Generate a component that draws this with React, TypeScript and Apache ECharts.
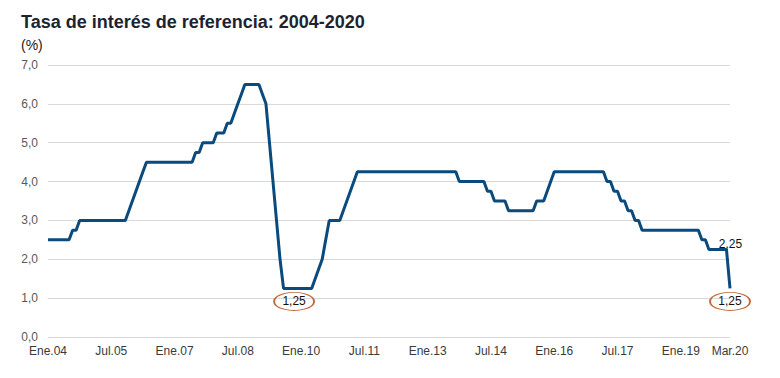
import React, { useEffect, useRef } from "react";
import * as echarts from "echarts";

const TITLE = "Tasa de interés de referencia: 2004-2020";
const UNIT = "(%)";

const MONTHS = ["Ene", "Feb", "Mar", "Abr", "May", "Jun", "Jul", "Ago", "Set", "Oct", "Nov", "Dic"];
const FIRST_YEAR = 2004;

// Monthly reference rate, Jan 2004 - Mar 2020 (195 months)
const rates: number[] = [
  // 2004
  2.5, 2.5, 2.5, 2.5, 2.5, 2.5, 2.5, 2.75, 2.75, 3.0, 3.0, 3.0,
  // 2005
  3.0, 3.0, 3.0, 3.0, 3.0, 3.0, 3.0, 3.0, 3.0, 3.0, 3.0, 3.25,
  // 2006
  3.5, 3.75, 4.0, 4.25, 4.5, 4.5, 4.5, 4.5, 4.5, 4.5, 4.5, 4.5,
  // 2007
  4.5, 4.5, 4.5, 4.5, 4.5, 4.5, 4.75, 4.75, 5.0, 5.0, 5.0, 5.0,
  // 2008
  5.25, 5.25, 5.25, 5.5, 5.5, 5.75, 6.0, 6.25, 6.5, 6.5, 6.5, 6.5,
  // 2009
  6.5, 6.25, 6.0, 5.0, 4.0, 3.0, 2.0, 1.25, 1.25, 1.25, 1.25, 1.25,
  // 2010
  1.25, 1.25, 1.25, 1.25, 1.5, 1.75, 2.0, 2.5, 3.0, 3.0, 3.0, 3.0,
  // 2011
  3.25, 3.5, 3.75, 4.0, 4.25, 4.25, 4.25, 4.25, 4.25, 4.25, 4.25, 4.25,
  // 2012
  4.25, 4.25, 4.25, 4.25, 4.25, 4.25, 4.25, 4.25, 4.25, 4.25, 4.25, 4.25,
  // 2013
  4.25, 4.25, 4.25, 4.25, 4.25, 4.25, 4.25, 4.25, 4.25, 4.0, 4.0, 4.0,
  // 2014
  4.0, 4.0, 4.0, 4.0, 4.0, 3.75, 3.75, 3.5, 3.5, 3.5, 3.5, 3.25,
  // 2015
  3.25, 3.25, 3.25, 3.25, 3.25, 3.25, 3.25, 3.5, 3.5, 3.5, 3.75, 4.0,
  // 2016
  4.25, 4.25, 4.25, 4.25, 4.25, 4.25, 4.25, 4.25, 4.25, 4.25, 4.25, 4.25,
  // 2017
  4.25, 4.25, 4.25, 4.0, 4.0, 3.75, 3.75, 3.5, 3.5, 3.25, 3.25, 3.0,
  // 2018
  3.0, 2.75, 2.75, 2.75, 2.75, 2.75, 2.75, 2.75, 2.75, 2.75, 2.75, 2.75,
  // 2019
  2.75, 2.75, 2.75, 2.75, 2.75, 2.75, 2.5, 2.5, 2.25, 2.25, 2.25, 2.25,
  // 2020
  2.25, 2.25, 1.25,
];

const categories: string[] = rates.map((_, i) => {
  const y = FIRST_YEAR + Math.floor(i / 12);
  return MONTHS[i % 12] + "." + String(y % 100).padStart(2, "0");
});

const tickIndices = [0, 18, 36, 54, 72, 90, 108, 126, 144, 162, 180, 194];

const circledLabels = [
  { index: 70, value: 1.25, text: "1,25" },
  { index: 194, value: 1.25, text: "1,25" },
];
const plainLabels = [{ index: 193, value: 2.25, text: "2,25" }];

const FONT = '"Liberation Sans", Arial, Helvetica, sans-serif';

export default function App() {
  const ref = useRef<HTMLDivElement>(null);
  useEffect(() => {
    document.body.style.margin = "0";
    if (!ref.current) return;
    const chart = echarts.init(ref.current, null, { renderer: "svg" });
    chart.setOption({
      animation: false,
      backgroundColor: "#ffffff",
      textStyle: { fontFamily: FONT },
      title: [
        {
          text: TITLE,
          left: 21,
          top: 13,
          padding: 0,
          textStyle: { fontSize: 18, fontWeight: "bold", color: "#1b2430", fontFamily: FONT },
        },
        {
          text: UNIT,
          left: 21,
          top: 38,
          padding: 0,
          textStyle: { fontSize: 14, fontWeight: "normal", color: "#222222", fontFamily: FONT },
        },
      ],
      grid: { left: 48, right: 50, top: 65, bottom: 41, containLabel: false },
      xAxis: {
        type: "category",
        data: categories,
        boundaryGap: false,
        axisLine: { show: false },
        axisTick: { show: false },
        splitLine: { show: false },
        axisLabel: {
          interval: (idx: number) => tickIndices.includes(idx),
          color: "#3a3a3a",
          fontSize: 12,
          margin: 8,
          fontFamily: FONT,
        },
      },
      yAxis: {
        type: "value",
        min: 0,
        max: 7,
        interval: 1,
        axisLine: { show: false },
        axisTick: { show: false },
        splitLine: { show: true, lineStyle: { color: "#d9d9d9", width: 1 } },
        axisLabel: {
          formatter: (v: number) => v.toFixed(1).replace(".", ","),
          color: "#595959",
          fontSize: 12,
          margin: 10,
          fontFamily: FONT,
        },
      },
      series: [
        {
          type: "line",
          data: rates,
          showSymbol: false,
          symbol: "none",
          lineStyle: { color: "#0a4a7c", width: 3 },
          itemStyle: { color: "#0a4a7c" },
          markPoint: {
            silent: true,
            data: [
              ...circledLabels.map((p) => ({
                coord: [categories[p.index], p.value],
                symbol: "circle",
                symbolSize: [40, 18],
                symbolOffset: [0, 13],
                itemStyle: { color: "rgba(255,255,255,0)", borderColor: "#c0683a", borderWidth: 1.3 },
                label: {
                  show: true,
                  position: "inside",
                  formatter: p.text,
                  color: "#111111",
                  fontSize: 12,
                  fontFamily: FONT,
                },
              })),
              ...plainLabels.map((p) => ({
                coord: [categories[p.index], p.value],
                symbol: "circle",
                symbolSize: 1,
                itemStyle: { color: "rgba(0,0,0,0)" },
                label: {
                  show: true,
                  position: "inside",
                  offset: [4, -6],
                  formatter: p.text,
                  color: "#111111",
                  fontSize: 12,
                  fontFamily: FONT,
                },
              })),
            ],
          },
        },
      ],
    });
    return () => chart.dispose();
  }, []);
  return <div ref={ref} style={{ width: 780, height: 378 }} />;
}
